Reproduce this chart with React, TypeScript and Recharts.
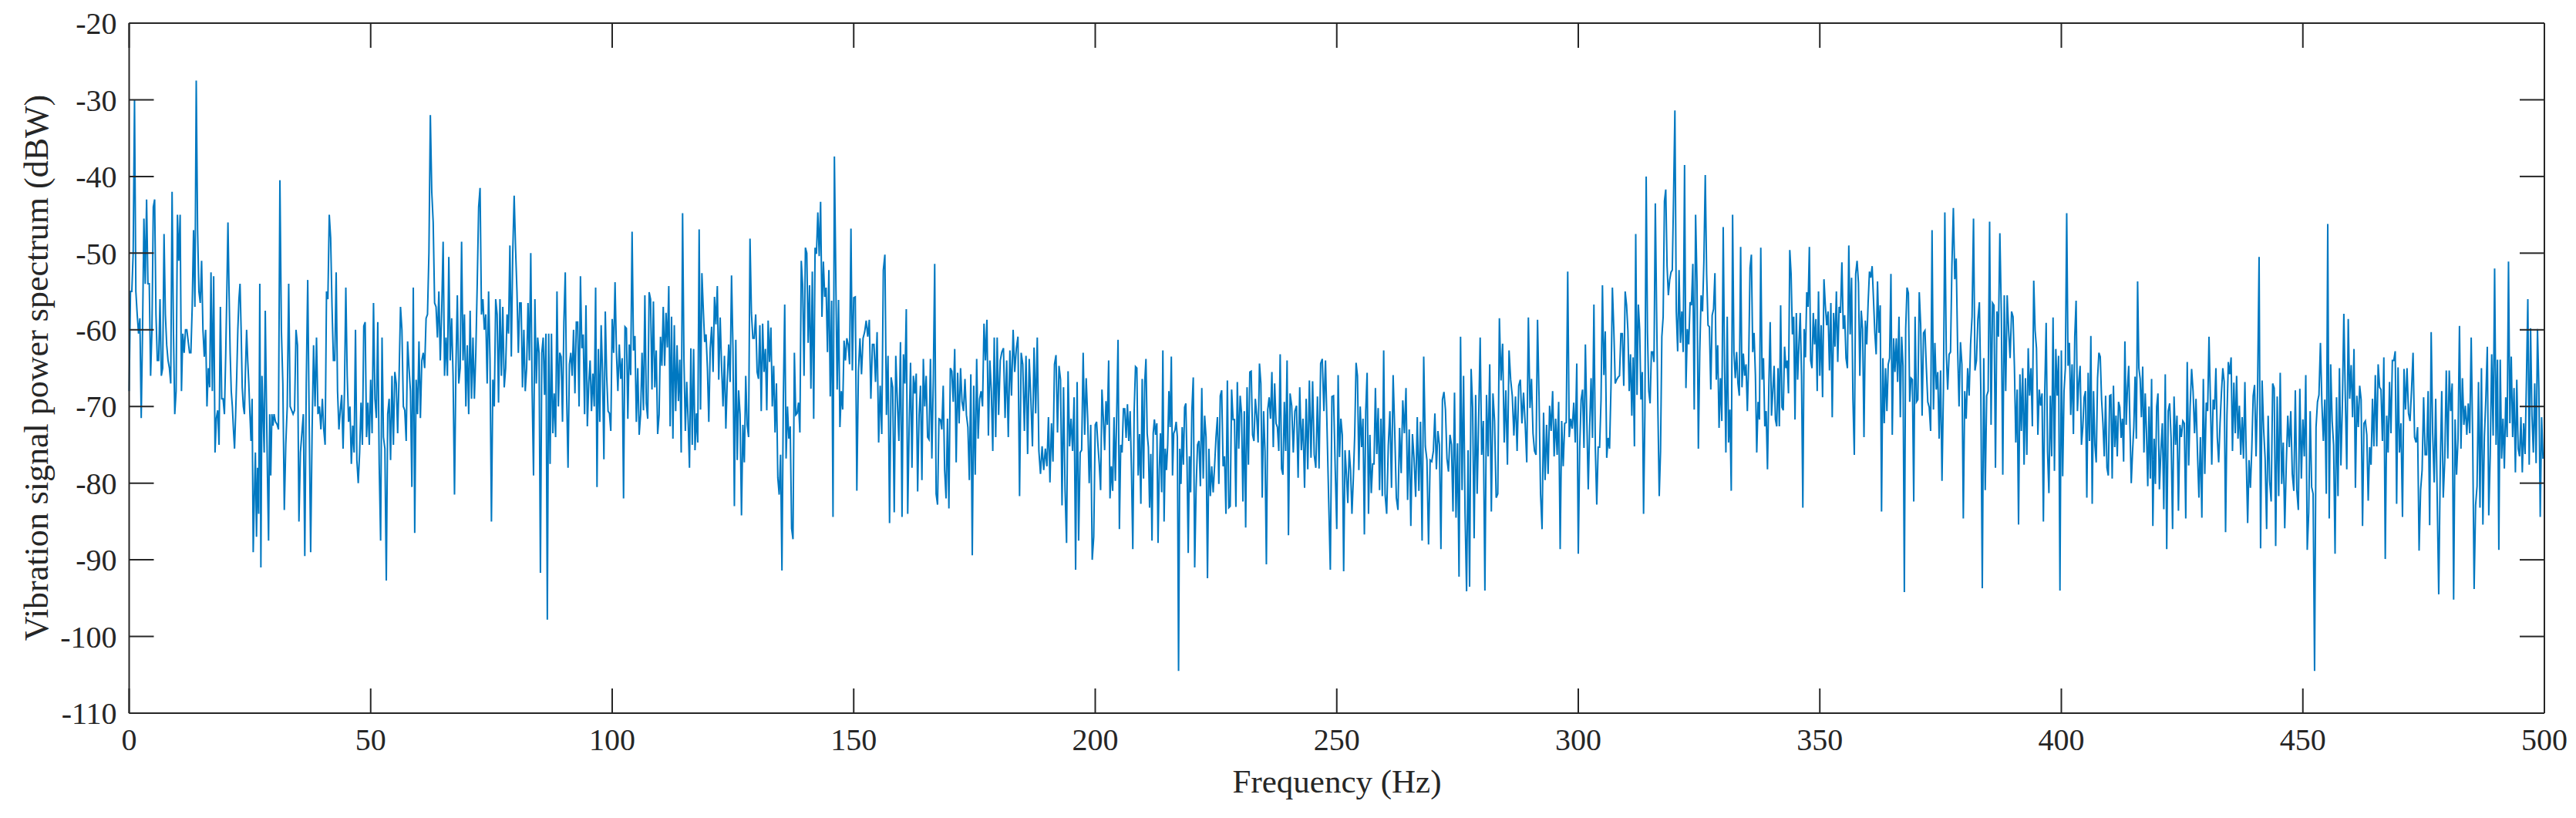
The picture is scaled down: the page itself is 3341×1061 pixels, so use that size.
import { Line, LineChart, XAxis, YAxis } from 'recharts';

const xTicks = [0, 50, 100, 150, 200, 250, 300, 350, 400, 450, 500];
const yTicks = [-110, -100, -90, -80, -70, -60, -50, -40, -30, -20];

// power spectrum, one list per 10 Hz
const seg000 = [-68,-55,-55,-50,-30,-55,-58,-60.5,-58.5,-71.5,-60,-45.5,-54,-43,-54,-54,-66,-60,-44,-43,-58,-64,-64,-56,-66,-65,-47.5,-58,-62,-64,-65,-67,-42,-60,-71,-68];
const seg010 = [-45,-51,-45,-68,-60.5,-63,-60,-60,-61.5,-63,-63,-57,-47,-57,-27.5,-47,-55,-56.5,-51,-60,-63.5,-60,-70,-65,-67.5,-52.5,-68,-53,-76,-71.5,-70.5,-75,-57,-69,-69,-71];
const seg020 = [-63,-55,-46,-55,-63,-68,-70,-73,-75.5,-71,-66,-60,-56,-54,-60,-67.5,-70,-71,-65,-60,-64,-67,-71,-74.5,-69,-89,-82,-76,-87,-78,-84,-54,-91,-66,-71,-76,-57.5,-69,-79,-87.5,-71,-79,-71,-72.5];
const seg030 = [-71,-72,-72.3,-73,-40.5,-60,-67,-83.5,-75,-70,-54,-70,-70.5,-71,-70.5,-60,-62,-85,-76,-73.5,-71,-89.5,-67,-53.5,-72,-89,-73,-62,-70,-61,-71,-70,-73];
const seg040 = [-69,-73,-75,-55,-56,-45,-48,-57,-64,-64,-52.5,-68,-73,-70.5,-68.5,-75.5,-68,-54.5,-66,-72,-70,-77.5,-72.5,-76,-60,-77,-80,-76,-69.5,-75,-59.5,-59,-74,-69.5,-75];
const seg050 = [-66.5,-73.5,-56.5,-69,-71.5,-59,-77.5,-87.5,-61,-74,-75.5,-92.7,-71,-69,-77,-66,-75,-65.5,-67,-73.5,-66,-57,-60,-70,-70.5,-74.5,-61.5,-65,-68,-80.5,-54.5,-86.5,-66.5,-71];
const seg060 = [-61.5,-71.5,-64,-63,-65,-58.5,-58,-50,-32,-42,-46,-56.5,-57,-61,-55,-64,-57.5,-48.5,-66,-61,-66,-50.5,-64,-58.5,-66,-81.5,-65,-55.5,-67,-65,-48.5,-64,-58,-70];
const seg070 = [-62,-71,-57.5,-69,-61,-69,-63,-54,-44,-41.5,-58,-56,-60,-58,-67,-55,-64,-85,-66.5,-70,-56,-58,-69.5,-56,-66,-57,-67.5,-65,-58,-60.5,-49,-63.5,-50,-42.5];
const seg080 = [-49.5,-55,-63,-56.5,-56.5,-67.5,-60,-68,-65,-56.5,-64,-50,-68,-79,-56,-67,-61,-63,-91.7,-63,-61,-68.5,-60.5,-97.8,-60.5,-77.5,-60.5,-73.5,-68.3,-74,-55,-70,-63,-63.5,-72];
const seg090 = [-59,-52.5,-68.5,-78,-64.5,-63,-66,-60,-68.3,-59,-59,-70,-53,-62.4,-60.6,-71,-56.8,-72.6,-67,-64,-70.6,-65.7,-70,-54.5,-80.5,-62.5,-72,-59.4,-65.5,-76.9,-57.6,-66,-70.6,-70.9,-73.2];
const seg100 = [-58.6,-63,-53.8,-63,-68,-61.9,-66.4,-63.7,-82,-59.6,-59.8,-71.6,-61.9,-65.9,-47.2,-62.7,-60.8,-72,-65,-73.7,-71,-63,-70.5,-55.5,-69.6,-71.6,-55.1,-56,-67.8,-56.3,-67.5,-62.7,-73.6,-71.1];
const seg110 = [-60.9,-64.7,-57,-64.7,-57.8,-62.3,-54.3,-72.6,-58.3,-74.2,-59.4,-70.6,-62,-69.3,-63.9,-76,-44.8,-63.9,-73.2,-66.8,-71.7,-78,-62.4,-75,-62.5,-75.7,-70.9,-74.7,-46.9,-70.4,-52.6,-57.3,-61.6,-60.6,-65];
const seg120 = [-72,-62.4,-59.6,-65.5,-55.7,-59.3,-54.3,-66.5,-58.4,-64.7,-70,-63.4,-72.9,-66.5,-61.9,-66.8,-52.9,-62.4,-83,-61.3,-77,-67.9,-71,-84.2,-72.4,-77.3,-66,-72.4,-74,-48.1,-57.8,-61.1,-61.1,-58];
const seg130 = [-65.5,-66.4,-59.4,-70.6,-59.2,-65.5,-62.5,-70.5,-58.8,-64.2,-59.7,-70,-64.7,-73.4,-67,-79.3,-81.5,-76.3,-91.4,-69,-56.7,-76.8,-70,-74.2,-72.6,-85.9,-87.3,-63,-71.1,-70.9,-69.5,-73.4,-51,-54.2,-66];
const seg140 = [-49.3,-50,-61.7,-54.2,-67.7,-52.4,-71.6,-49.3,-50.1,-44.7,-50.4,-43.3,-58.3,-51.1,-55.7,-54.5,-62.9,-52.2,-68.7,-56.2,-84.4,-37.4,-52.7,-67.8,-56.1,-72.7,-68,-70.4,-61.4,-64,-61.1,-61.9,-64.5,-46.8,-65.3];
const seg150 = [-55.8,-55.7,-81,-65.5,-61.1,-65.8,-61.1,-60.3,-58.8,-60.9,-58.7,-69,-61.9,-61.9,-66.8,-60.3,-74.7,-67.3,-73.6,-52.2,-50.2,-71.1,-63.4,-85.2,-66.2,-67.5,-83.8,-63.4,-69.3,-74.5,-61.6];
const seg160 = [-84.4,-63.2,-67,-57.3,-84,-72.9,-64.3,-78,-66,-68.3,-65.7,-81.1,-71.1,-67.3,-79.6,-63.8,-70,-66,-74,-74.3,-63.8,-76.8,-66.8,-51.4,-81.4,-82.8,-71.6,-71.7,-73,-67.3,-78.3,-82,-71.6,-83.3];
const seg170 = [-65,-65.4,-69.4,-62.5,-77.3,-65.6,-72.2,-65,-69.4,-70.6,-66.4,-71.1,-72.7,-79.6,-65.8,-89.4,-67.3,-78.9,-63.8,-74.2,-69,-68,-70,-59.2,-64,-58.7,-73.8,-64,-68,-75.8,-61,-74,-61];
const seg180 = [-71.1,-64,-62.9,-62.4,-71.5,-64,-74,-62.7,-68.6,-60,-65.5,-62.4,-60.9,-81.7,-63,-64.5,-73.2,-63.4,-76.2,-63.8,-69,-75.2,-62.3,-70.9,-61,-75.8,-78.8,-75.2,-78.3,-75.5];
const seg190 = [-77.8,-71.4,-79.9,-72.2,-77.2,-64.5,-63.3,-73.4,-64.7,-66.5,-82.9,-67.5,-80.9,-87.8,-65.4,-75.2,-71.6,-75.8,-68.8,-91.3,-66.8,-87.5,-76,-75.7,-63,-73.7,-66.3,-71.6,-80,-72.4,-90,-87];
const seg200 = [-72.4,-72,-75,-77.5,-80.9,-67.8,-71.4,-75.7,-69.3,-72.4,-64,-82,-77.8,-81,-71.4,-79.7,-71,-61.3,-86,-75,-76,-70.3,-70.3,-74.1,-69.7,-74.5,-70.6,-78.3,-88.6,-70.6,-64.8,-65,-79,-73.6,-82.7,-66.4];
const seg210 = [-79.4,-66.8,-63.8,-73.5,-75.3,-83.2,-76.2,-87.5,-73.5,-71.7,-73.7,-72.2,-87.8,-78.3,-73.5,-81.2,-62.7,-85,-75.5,-78.3,-75,-68,-72.7,-63.5,-79,-73.5,-73.1,-72,-74,-104.5,-75.5,-80.1,-72.7,-77.6,-70.1,-69.6,-77.3,-89.1,-76.5,-81.2];
const seg220 = [-70.6,-66.2,-91,-80.6,-75,-74.5,-80.4,-67.6,-79.4,-71.2,-74,-92.4,-75.5,-81.7,-77.8,-81.2,-77.8,-74,-71.4,-80.1,-68.6,-67.9,-77.8,-76.5,-84,-66.6,-83.2,-83,-67.8,-71.7,-71.7,-83.1,-66.8,-75.5];
const seg230 = [-68.6,-70.9,-82.4,-70.6,-85.8,-67.5,-77.6,-65.5,-65.4,-73.7,-74.5,-69,-71.2,-74.7,-64.4,-67,-81.9,-70.6,-75.8,-90.6,-70.4,-68.8,-71.6,-65.5,-75.3,-67,-72.2,-72.7,-75.8,-63.2,-78.1,-78.9,-69.4,-75.8,-64];
const seg240 = [-86.8,-68.3,-69.9,-76,-70.6,-69.9,-79.3,-67.5,-75.7,-71.6,-80.6,-69,-78.2,-66.6,-76.7,-66.7,-76.3,-78,-68.7,-78.1,-64.4,-63.8,-70.6,-64,-73.2,-82.4,-91.3,-68.7,-68.6,-77.8];
const seg250 = [-86,-65.9,-76.6,-71.6,-73.7,-91.5,-75.7,-78.8,-82.6,-75.7,-78.3,-84,-79.4,-73.7,-64.3,-66,-78.3,-70,-75.3,-71.6,-86.7,-70.6,-65.6,-84,-73.7,-81.3,-77.5,-77.5,-67.6,-76.2,-70.2,-80.9,-71.6,-81.7,-62.7];
const seg260 = [-81.4,-84,-75.1,-70.6,-80.6,-65.9,-73.2,-81.9,-83.5,-72.8,-78.7,-69.2,-73.5,-67.6,-82.2,-73,-85.6,-73.6,-76.8,-81.8,-71.4,-81,-72,-87.5,-63.5,-75.2,-77,-88,-77,-77.2];
const seg270 = [-75.8,-70.9,-78.2,-73.2,-75,-88.6,-69.1,-68.1,-70.4,-76.8,-78.5,-73.7,-75,-83.7,-68.2,-84.5,-74.8,-92.2,-60.9,-80.9,-66,-84,-94.1,-75.7,-93.5,-65.1,-70.1,-87.2,-68.5,-81.4,-71.7,-61];
const seg280 = [-76.3,-71.9,-94,-68.5,-76.5,-64.5,-83.7,-68.3,-71.9,-81.9,-81.4,-58.5,-66.6,-61.8,-74.7,-67.9,-77.6,-62.7,-66.5,-68.6,-73.8,-68.7,-75.8,-67.3,-66.5,-72.2,-68.2,-72.2,-77.3,-58.4];
const seg290 = [-70.2,-66.4,-73.5,-75.8,-76.3,-58.7,-68.8,-81.4,-86,-70.8,-79.6,-72.4,-78.8,-69.9,-73.2,-68,-76.5,-71.6,-76.3,-69.4,-88.6,-71.9,-77.8,-72.2,-72.1,-52.4,-74,-71.6,-72.9,-69.5,-74.7,-64.4];
const seg300 = [-89.2,-75.3,-69.1,-67.8,-75.4,-61.9,-71.7,-80.8,-72.7,-66.3,-74.1,-56.7,-75.5,-82.8,-75.3,-75.3,-69.2,-54.2,-65.9,-60.2,-76.7,-74.1,-75.5,-67.6,-54.5,-59.9,-67,-66.5,-66.2,-66,-60.5,-60.5,-67.3,-55];
const seg310 = [-56.8,-60.1,-68,-63.2,-71.2,-63.6,-75.2,-47.5,-68.5,-56.7,-59.9,-69.1,-65.5,-84,-71.2,-40,-60.4,-68,-69.6,-62.9,-62.9,-64.2,-43.5,-57.8,-70.6,-81.7,-75.8,-60.9,-58.3,-43.2,-41.7,-51.7,-55.5,-53.5,-52.5,-52.2,-42.4];
const seg320 = [-31.4,-57.6,-62.8,-52.2,-61.7,-57.6,-62.9,-38.5,-67.6,-59.9,-61.9,-56.4,-56.8,-51.4,-70.4,-45,-53.7,-75.5,-62.9,-55.5,-57.6,-51.1,-39.8,-52.7,-59.4,-59.6,-67.8,-58.1,-57.3,-52.6,-66.5,-62,-72.8,-66.3,-71.9];
const seg330 = [-46.6,-64.7,-76,-58.3,-74.7,-70.4,-81,-45,-62.9,-66.3,-62.9,-67,-68.6,-49.2,-67.5,-63.1,-66,-64.5,-70.6,-64,-51.9,-50.2,-62.9,-60.4,-65.9,-76,-69.4,-71.7,-49.3,-66.5,-63.7,-72.6,-70.6,-78.2,-67.6,-59];
const seg340 = [-71.2,-68,-64.7,-71.7,-72.6,-65,-72.6,-56.8,-70.1,-70.5,-62.2,-65,-64,-68.3,-49.6,-52.7,-60.6,-58.3,-71.7,-57.8,-66.5,-61.9,-57.8,-66,-83.2,-59.9,-63.6,-55.1,-57,-49.2,-64,-65,-57.8,-61.9,-58.6,-68,-55];
const seg350 = [-66,-59.4,-68.8,-53.4,-56.8,-59.4,-57.6,-65.3,-56.5,-71.4,-57.8,-62.2,-55,-64.2,-57,-57.8,-51.2,-59.9,-58.1,-63.7,-65,-49,-60.6,-53.2,-69.1,-76.3,-52.7,-51,-53.9,-66,-57.5,-59.9,-74,-58.8,-61.9];
const seg360 = [-56.5,-52.4,-53.2,-51.7,-56,-60.4,-63.2,-53.7,-60.4,-56.8,-83.7,-63.7,-72.2,-65,-70.6,-64.5,-63.7,-52.7,-73.7,-61.1,-65.5,-61.1,-66.8,-58.3,-71.4,-60.9,-64.7,-94.2,-59.9,-54.5,-55.2,-69.4,-66.3,-66.5,-82.4,-58.3];
const seg370 = [-69.4,-69.1,-55.1,-59.4,-71.2,-60.4,-60.1,-65,-69.4,-70.1,-73.2,-47,-70.4,-61.7,-67.8,-65.5,-74.2,-65.3,-79.7,-68,-44.7,-62.9,-67.8,-63.2,-62.9,-51.4,-44.1,-53.4,-50.7,-62.4,-70,-61.6,-64.5,-84.6];
const seg380 = [-68,-71.6,-65,-68.6,-61.9,-58.3,-45.5,-65.3,-64,-58.6,-56.4,-68,-93.7,-63.7,-80.9,-68.6,-68,-45.9,-72.4,-56.5,-56.8,-78,-57.6,-60.9,-47.4,-57.8,-78.9,-55.5,-68,-55.5,-60.1,-63.7,-57.6];
const seg390 = [-58.3,-64.8,-74.7,-67.8,-85.4,-65.8,-73.2,-65,-77.6,-66.3,-76.3,-62.4,-68.6,-65,-72.6,-53.6,-60.1,-62.4,-73.7,-67.8,-69.9,-68.3,-85,-68,-59.1,-75.8,-81.3,-68.6,-76.5,-58.4,-78.4,-62.5,-68.6,-63.4,-94];
const seg400 = [-62.7,-79.1,-68,-65,-44.8,-64.7,-61.7,-71.1,-64.5,-73.6,-60.9,-56.2,-70.6,-66.8,-64.7,-75,-72.7,-68.8,-68,-81.9,-65.6,-74.5,-60.8,-82.7,-68,-75,-77.3,-66.3,-63,-63.5,-69.1,-72.2,-76.5,-68.6,-78,-79];
const seg410 = [-68.6,-68.5,-79.4,-67.3,-75.3,-71.2,-76.5,-69.4,-70.1,-74.1,-71.6,-77.2,-61.5,-72.4,-67.6,-64.7,-72.7,-80,-76,-72.7,-66.1,-74.2,-53.7,-65,-66.4,-71.4,-64.8,-76,-68.3,-73.5,-80.4,-70,-79.4,-66.4,-85.6,-74.2,-80.1,-70];
const seg420 = [-68.3,-80.8,-75.8,-72.2,-83.4,-65.8,-88.6,-70.6,-69.6,-74.2,-86,-68.7,-75,-71.2,-83.6,-72.4,-74,-71.9,-72.2,-84.6,-64.2,-77.7,-70,-65.1,-68,-73.5,-69,-76,-81.9,-74,-84.5,-66.4,-78.8];
const seg430 = [-69.5,-70.6,-60.9,-69.1,-77.6,-69.1,-70.4,-65,-74,-77.3,-72.2,-68.2,-65,-66.8,-86.4,-71.2,-64.2,-65.8,-63.6,-75.8,-66.9,-73.5,-66,-74.2,-69.9,-76.3,-71.4,-76.8,-66.8,-76.8,-85.2,-77,-80.6,-75.5,-68.6];
const seg440 = [-67.2,-76.5,-68,-50.5,-88.5,-66.6,-72.9,-76.8,-86,-71.2,-79.7,-82.4,-67,-67.6,-88.2,-68.7,-81.7,-65.6,-80.1,-74.7,-85.9,-77.6,-71.2,-75.3,-70.6,-78.8,-81,-67.9,-80.9,-83.5,-67.7,-79.4];
const seg450 = [-71.7,-76.5,-65.9,-88.7,-83.8,-70.6,-80.5,-81.4,-104.5,-72.7,-69.4,-68.5,-61.7,-69.6,-74.5,-69.1,-81.4,-46.2,-84.6,-64.5,-71.9,-75,-89.2,-68.8,-81.7,-65,-77.7,-69.6,-57.9,-68.8,-78.2,-58.6,-69];
const seg460 = [-64.6,-71.4,-62.5,-80.6,-68.6,-72.7,-67.3,-69.1,-85.6,-72.2,-71.9,-73.7,-82.3,-75.3,-77.6,-69,-75.2,-65.9,-75.2,-64.5,-67.5,-67.8,-74.5,-63.6,-89.9,-71.2,-76,-66.8,-73.5,-64,-64,-62.8,-82.7,-64.9];
const seg470 = [-76,-72.2,-84.4,-65.1,-70.4,-65,-70.9,-71.9,-67.8,-63,-74,-74.7,-72.7,-88.8,-80.9,-78.3,-68.8,-76.3,-76.3,-68,-85.5,-60.3,-73.5,-79.9,-69,-81.9,-94.5,-78.3,-68,-81.9,-77,-65.3];
const seg480 = [-76.8,-65.3,-70.6,-67,-95.2,-71.7,-78.9,-74.2,-59.5,-75.5,-66.3,-72.4,-69.9,-73.7,-69.6,-73.5,-61,-74,-93.8,-82.9,-80.4,-66.8,-83.2,-65,-85.4,-74,-69,-62.2,-84.2,-76.3,-63.2,-73.8,-52];
const seg490 = [-75,-63.9,-88.7,-63.9,-76.8,-71.6,-78.1,-68.8,-74,-51.1,-72.2,-63.5,-74,-67.6,-78.6,-66.5,-75.5,-76.5,-71.4,-78.6,-72.2,-76.2,-66.5,-56,-77.6,-59.8,-71.2,-76,-67,-77.4,-59.9,-67.6,-84.4,-71.4,-76.8];

const segments = [
  seg000, seg010, seg020, seg030, seg040, seg050, seg060, seg070, seg080, seg090,
  seg100, seg110, seg120, seg130, seg140, seg150, seg160, seg170, seg180, seg190,
  seg200, seg210, seg220, seg230, seg240, seg250, seg260, seg270, seg280, seg290,
  seg300, seg310, seg320, seg330, seg340, seg350, seg360, seg370, seg380, seg390,
  seg400, seg410, seg420, seg430, seg440, seg450, seg460, seg470, seg480, seg490,
];

const rows = segments.flatMap((seg, s) =>
  seg.map((power, i) => ({ hz: s * 10 + (i * 10) / seg.length, power })),
);
rows.push({ hz: 500, power: -76 });

const FONT = '"Liberation Serif", "Times New Roman", serif';
const AXIS = '#262626';
const tickFont = { fontSize: 40, fontFamily: FONT, fill: AXIS };
const noLabel = () => '';

export default function App() {
  return (
    <div style={{ position: 'absolute', left: 0, top: 0, width: 3341, height: 1061, overflow: 'hidden', background: '#fff' }}>
      <LineChart width={3341} height={1061} data={rows} margin={{ top: 29, right: 40, bottom: 0, left: 0 }}>
        <XAxis
          xAxisId="bottom"
          dataKey="hz"
          type="number"
          domain={[0, 500]}
          ticks={xTicks}
          height={136}
          interval={0}
          tick={tickFont}
          tickSize={-32}
          tickMargin={52}
          stroke={AXIS}
          strokeWidth={2}
        />
        <XAxis
          xAxisId="top"
          orientation="top"
          dataKey="hz"
          type="number"
          domain={[0, 500]}
          ticks={xTicks}
          height={1}
          interval={0}
          tickFormatter={noLabel}
          tickSize={-32}
          stroke={AXIS}
          strokeWidth={2}
        />
        <YAxis
          yAxisId="left"
          type="number"
          domain={[-110, -20]}
          ticks={yTicks}
          width={167.5}
          interval={0}
          tick={tickFont}
          tickSize={-32}
          tickMargin={48}
          stroke={AXIS}
          strokeWidth={2}
        />
        <YAxis
          yAxisId="right"
          orientation="right"
          type="number"
          domain={[-110, -20]}
          ticks={yTicks}
          width={1}
          interval={0}
          tickFormatter={noLabel}
          tickSize={-32}
          stroke={AXIS}
          strokeWidth={2}
        />
        {/* invisible series so the top and right axes get drawn */}
        <Line
          xAxisId="top"
          yAxisId="right"
          dataKey="power"
          stroke="none"
          dot={false}
          legendType="none"
          isAnimationActive={false}
        />
        <Line
          xAxisId="bottom"
          yAxisId="left"
          dataKey="power"
          type="linear"
          stroke="#0078C1"
          strokeWidth={2}
          dot={false}
          isAnimationActive={false}
        />
        <text x={1734} y={1028} textAnchor="middle" fontSize={43} fontFamily={FONT} fill={AXIS}>
          Frequency (Hz)
        </text>
        <text x={62} y={477} textAnchor="middle" fontSize={44} fontFamily={FONT} fill={AXIS} transform="rotate(-90 62 477)">
          Vibration signal power spectrum (dBW)
        </text>
      </LineChart>
    </div>
  );
}
